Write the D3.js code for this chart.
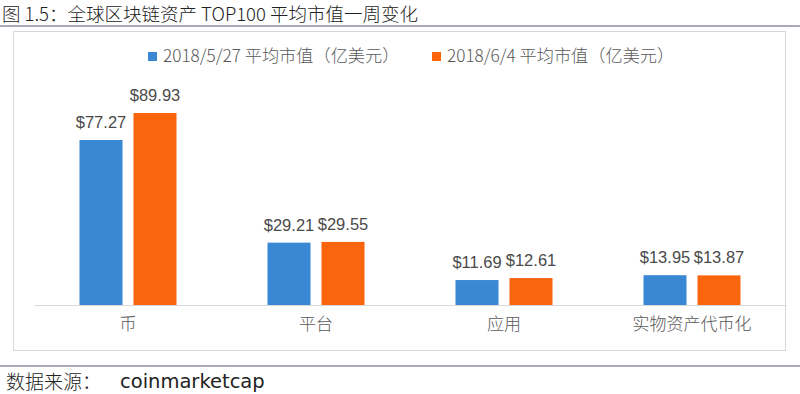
<!DOCTYPE html>
<html>
<head>
<meta charset="utf-8">
<script src="https://cdn.jsdelivr.net/npm/d3@7"></script>
<style>
  body { margin: 0; background: #fff; }
  svg { display: block; }
</style>
</head>
<body>
<svg id="chart"></svg>
<script>
const categories = ["币", "平台", "应用", "实物资产代币化"];
const seriesNames = ["2018/5/27 平均市值（亿美元）", "2018/6/4 平均市值（亿美元）"];
const valuesMay27 = [77.27, 29.21, 11.69, 13.95];
const valuesJun4 = [89.93, 29.55, 12.61, 13.87];
const colors = ["#3a87d3", "#fa640c"];

const width = 800;
const height = 394;
const cjk = "'Noto Sans CJK SC', 'Noto Sans', sans-serif";
const latin = "'Liberation Sans', Arial, sans-serif";

const svg = d3.select("#chart")
  .attr("width", width)
  .attr("height", height);

// title + rule
svg.append("text")
  .attr("x", 2)
  .attr("y", 21)
  .attr("font-family", cjk)
  .attr("font-weight", 300)
  .attr("font-size", 18.5)
  .attr("fill", "#222")
  .text("图 1.5：全球区块链资产 TOP100 平均市值一周变化");

svg.append("line")
  .attr("x1", 0).attr("x2", width)
  .attr("y1", 26).attr("y2", 26)
  .attr("stroke", "#55557f")
  .attr("stroke-width", 1.2);

// chart frame
svg.append("rect")
  .attr("x", 13.5).attr("y", 31.5)
  .attr("width", 772).attr("height", 319)
  .attr("fill", "none")
  .attr("stroke", "#d9d9d9");

const x = d3.scaleBand()
  .domain(categories)
  .range([34, 786]);

const y = d3.scaleLinear()
  .domain([0, 100])
  .range([305, 91.5]);

const barW = 43;
const offsets = [-27, 27];

const data = categories.map((c, i) => ({ cat: c, vals: [valuesMay27[i], valuesJun4[i]] }));

const groups = svg.selectAll("g.cat")
  .data(data)
  .enter().append("g")
  .attr("class", "cat")
  .attr("transform", d => `translate(${x(d.cat) + x.bandwidth() / 2},0)`);

groups.selectAll("rect")
  .data(d => d.vals.map((v, s) => ({ v, s })))
  .enter().append("rect")
  .attr("x", d => offsets[d.s] - barW / 2)
  .attr("width", barW)
  .attr("y", d => y(d.v))
  .attr("height", d => y(0) - y(d.v))
  .attr("fill", d => colors[d.s]);

groups.selectAll("text.val")
  .data(d => d.vals.map((v, s) => ({ v, s })))
  .enter().append("text")
  .attr("class", "val")
  .attr("x", d => offsets[d.s])
  .attr("y", d => y(d.v) - 12)
  .attr("text-anchor", "middle")
  .attr("font-family", latin)
  .attr("font-size", 16.5)
  .attr("fill", "#4a4a4a")
  .text(d => "$" + d.v.toFixed(2));

// baseline + category axis
const xAxis = svg.append("g")
  .attr("transform", `translate(0,${y(0)})`)
  .call(d3.axisBottom(x).tickSize(0).tickPadding(13));

xAxis.select(".domain")
  .attr("stroke", "#d9d9d9");

xAxis.selectAll("text")
  .attr("font-family", cjk)
  .attr("font-weight", 300)
  .attr("font-size", 17)
  .attr("fill", "#595959");

// legend
const legendX = [148, 432];
const legend = svg.selectAll("g.legend")
  .data(seriesNames)
  .enter().append("g")
  .attr("class", "legend")
  .attr("transform", (d, i) => `translate(${legendX[i]},52)`);

legend.append("rect")
  .attr("width", 9).attr("height", 9)
  .attr("fill", (d, i) => colors[i]);

legend.append("text")
  .attr("x", 15)
  .attr("y", 10)
  .attr("font-family", cjk)
  .attr("font-weight", 300)
  .attr("font-size", 17.2)
  .attr("fill", "#595959")
  .text(d => d);

// source
svg.append("line")
  .attr("x1", 0).attr("x2", width)
  .attr("y1", 366).attr("y2", 366)
  .attr("stroke", "#55557f")
  .attr("stroke-width", 1.2);

svg.append("text")
  .attr("x", 6)
  .attr("y", 389)
  .attr("font-family", cjk)
  .attr("font-weight", 300)
  .attr("font-size", 19)
  .attr("fill", "#222")
  .text("数据来源：");

svg.append("text")
  .attr("x", 120)
  .attr("y", 388)
  .attr("font-family", "'DejaVu Sans', sans-serif")
  .attr("font-size", 19.5)
  .attr("fill", "#222")
  .text("coinmarketcap");
</script>
</body>
</html>
